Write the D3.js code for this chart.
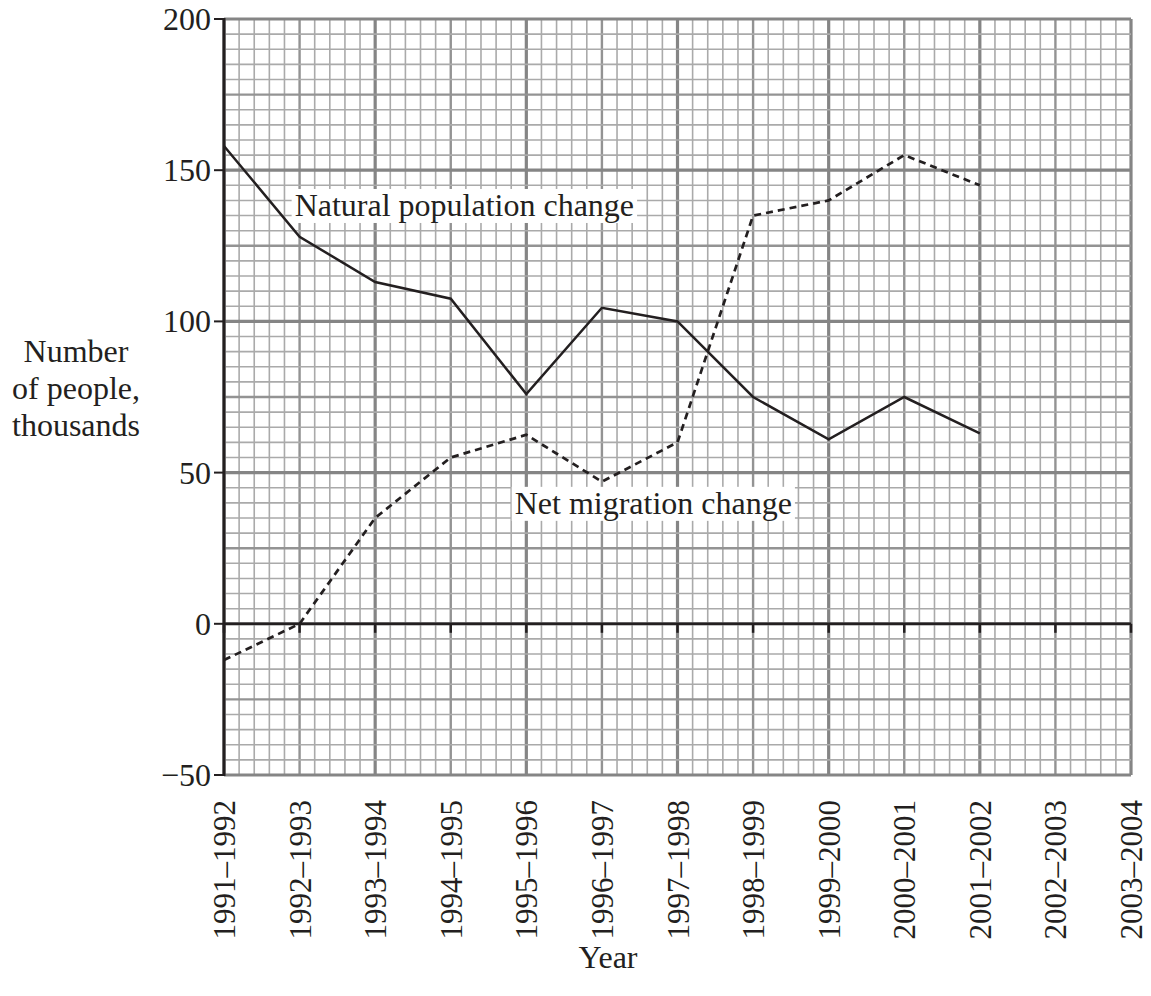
<!DOCTYPE html>
<html>
<head>
<meta charset="utf-8">
<style>
    body { margin: 0; background: #fff; }
    text { font-family: "Liberation Serif", "DejaVu Serif", serif; fill: #231f20; }
</style>
</head>
<body>
<div class="board"></div>
<script src="https://d3js.org/d3.v7.min.js"></script>
<script>
    var years = ["1991\u20131992", "1992\u20131993", "1993\u20131994", "1994\u20131995", "1995\u20131996",
        "1996\u20131997", "1997\u20131998", "1998\u20131999", "1999\u20132000", "2000\u20132001",
        "2001\u20132002", "2002\u20132003", "2003\u20132004"]
    var naturalChange = [158, 128, 113, 107.5, 76, 104.5, 100, 75, 61, 75, 63]
    var migrationChange = [-12, 0, 35, 55, 62.5, 47, 60, 135, 140, 155, 145]
    var yTicks = [-50, 0, 50, 100, 150, 200]

    var width = 1151, height = 996
    var X0 = 224, X1 = 1131, Y0 = 775, Y1 = 19
    var FS = 32

    var svg = d3.select(".board").append("svg")
        .attr("width", width)
        .attr("height", height)

    var x = d3.scaleLinear().domain([0, years.length - 1]).range([X0, X1])
    var y = d3.scaleLinear().domain([-50, 200]).range([Y0, Y1])

    // graph paper: minor every 0.2 year / 5 thousand
    var grid = svg.append("g")
    var vSteps = d3.range(0, (years.length - 1) * 5 + 1)
    var hSteps = d3.range(0, 50 + 1)

    function vStyle(i) {
        if (i % 10 == 0) return ["#858585", 3.2]
        if (i % 5 == 0) return ["#939393", 2.4]
        return ["#aaaaaa", 1.6]
    }

    grid.selectAll(".v").data(vSteps).enter().append("line")
        .attr("x1", d => x(d / 5)).attr("x2", d => x(d / 5))
        .attr("y1", Y1).attr("y2", Y0)
        .attr("stroke", d => vStyle(years.length * 5 - 5 - d)[0])
        .attr("stroke-width", d => vStyle(years.length * 5 - 5 - d)[1])

    grid.selectAll(".h").data(hSteps).enter().append("line")
        .attr("y1", d => y(-50 + d * 5)).attr("y2", d => y(-50 + d * 5))
        .attr("x1", X0).attr("x2", X1)
        .attr("stroke", d => vStyle(d)[0])
        .attr("stroke-width", d => vStyle(d)[1])

    // axes
    svg.append("line")
        .attr("x1", X0).attr("x2", X0).attr("y1", Y1 - 1).attr("y2", Y0 + 1)
        .attr("stroke", "#231f20").attr("stroke-width", 3)

    svg.selectAll(".ytick").data(yTicks).enter().append("line")
        .attr("x1", X0 - 10).attr("x2", X0)
        .attr("y1", d => y(d)).attr("y2", d => y(d))
        .attr("stroke", "#231f20").attr("stroke-width", 2)

    svg.selectAll(".ylab").data(yTicks).enter().append("text")
        .attr("x", X0 - 13)
        .attr("y", d => y(d) + 11)
        .attr("text-anchor", "end")
        .attr("font-size", FS)
        .text(d => d < 0 ? "\u2212" + Math.abs(d) : d)

    svg.append("line")
        .attr("x1", X0).attr("x2", X1).attr("y1", y(0)).attr("y2", y(0))
        .attr("stroke", "#231f20").attr("stroke-width", 2.5)

    svg.selectAll(".xtick").data(years).enter().append("line")
        .attr("x1", (d, i) => x(i)).attr("x2", (d, i) => x(i))
        .attr("y1", y(0)).attr("y2", y(0) + 9)
        .attr("stroke", "#231f20").attr("stroke-width", 2.5)

    svg.selectAll(".xlab").data(years).enter().append("text")
        .attr("transform", (d, i) => "translate(" + (x(i) + 11) + "," + (Y0 + 25) + ") rotate(-90)")
        .attr("text-anchor", "end")
        .attr("font-size", 31)
        .text(d => d)

    // series
    var line = d3.line().x((d, i) => x(i)).y(d => y(d))

    svg.append("path")
        .attr("d", line(naturalChange))
        .attr("fill", "none")
        .attr("stroke", "#231f20")
        .attr("stroke-width", 2.5)

    svg.append("path")
        .attr("d", line(migrationChange))
        .attr("fill", "none")
        .attr("stroke", "#231f20")
        .attr("stroke-width", 2.7)
        .attr("stroke-dasharray", "7,5")

    // annotations with white boxes
    function annotate(label, xi, v) {
        var g = svg.append("g")
        var t = g.append("text")
            .attr("x", x(xi)).attr("y", y(v) + 11)
            .attr("text-anchor", "middle")
            .attr("font-size", FS)
            .text(label)
        var b = t.node().getBBox()
        g.insert("rect", "text")
            .attr("x", b.x - 3).attr("y", b.y + 2)
            .attr("width", b.width + 6).attr("height", b.height - 2)
            .attr("fill", "#fff")
    }
    annotate("Natural population change", 3.18, 138.5)
    annotate("Net migration change", 5.68, 40)

    // titles
    var ylab = svg.append("text")
        .attr("text-anchor", "middle")
        .attr("font-size", FS)
    ylab.append("tspan").attr("x", 76).attr("y", 362).text("Number")
    ylab.append("tspan").attr("x", 76).attr("y", 399).text("of people,")
    ylab.append("tspan").attr("x", 76).attr("y", 436).text("thousands")

    svg.append("text")
        .attr("x", 608).attr("y", 968)
        .attr("text-anchor", "middle")
        .attr("font-size", FS)
        .text("Year")
</script>
</body>
</html>
